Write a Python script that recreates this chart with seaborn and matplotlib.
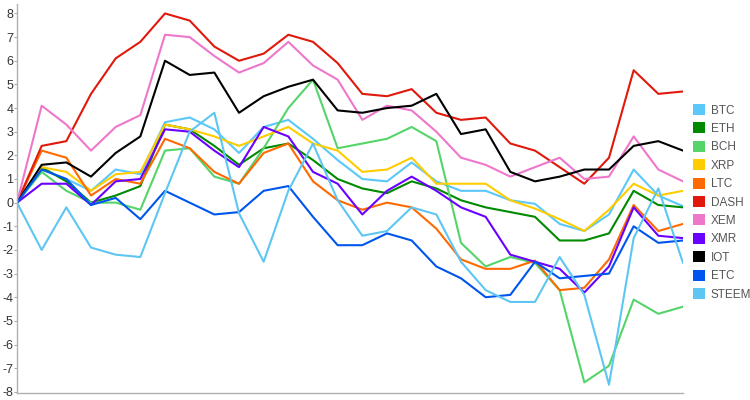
import pandas as pd
import matplotlib
matplotlib.use("Agg")
import matplotlib.pyplot as plt
from matplotlib.patches import Patch
import seaborn as sns

steps = list(range(28))

btc = [0, 1.4, 1.0, 0.5, 1.4, 1.2, 3.4, 3.6, 3.1, 2.1, 3.2, 3.5, 2.7, 1.8, 1.0, 0.9,
       1.7, 0.9, 0.5, 0.5, 0.1, -0.05, -0.9, -1.2, -0.5, 1.4, 0.3, -0.15]
eth = [0, 1.5, 0.9, 0.0, 0.3, 0.7, 3.3, 3.1, 2.4, 1.6, 2.3, 2.5, 1.8, 1.0, 0.6, 0.4,
       0.9, 0.6, 0.1, -0.2, -0.4, -0.6, -1.6, -1.6, -1.3, 0.5, -0.1, -0.2]
bch = [0, 1.3, 0.5, 0.0, 0.0, -0.3, 2.2, 2.3, 1.1, 0.8, 2.3, 4.0, 5.2, 2.3, 2.5, 2.7,
       3.2, 2.6, -1.7, -2.7, -2.3, -2.55, -3.7, -7.6, -6.9, -4.1, -4.7, -4.4]
xrp = [0, 1.5, 1.3, 0.5, 1.2, 1.3, 3.3, 3.1, 2.8, 2.4, 2.8, 3.2, 2.5, 2.2, 1.3, 1.4,
       1.9, 0.8, 0.8, 0.8, 0.1, -0.25, -0.7, -1.2, -0.3, 0.8, 0.3, 0.5]
ltc = [0, 2.2, 1.9, 0.3, 1.0, 0.8, 2.7, 2.3, 1.3, 0.8, 2.1, 2.5, 0.9, 0.1, -0.3, 0.0,
       -0.2, -1.1, -2.4, -2.8, -2.8, -2.45, -3.7, -3.6, -2.4, -0.1, -1.2, -0.9]
dash = [0, 2.4, 2.6, 4.6, 6.1, 6.8, 8.0, 7.7, 6.6, 6.0, 6.3, 7.1, 6.8, 5.9, 4.6, 4.5,
        4.8, 3.8, 3.5, 3.6, 2.5, 2.2, 1.5, 0.8, 1.9, 5.6, 4.6, 4.7]
xem = [0, 4.1, 3.3, 2.2, 3.2, 3.7, 7.1, 7.0, 6.2, 5.5, 5.9, 6.8, 5.8, 5.2, 3.5, 4.1,
       3.9, 3.0, 1.9, 1.6, 1.1, 1.5, 1.9, 1.0, 1.1, 2.8, 1.4, 0.9]
xmr = [0, 0.8, 0.8, -0.1, 0.9, 1.0, 3.1, 3.0, 2.2, 1.5, 3.2, 2.8, 1.3, 0.8, -0.5, 0.5,
       1.1, 0.5, -0.2, -0.6, -2.2, -2.5, -2.8, -3.8, -2.7, -0.2, -1.4, -1.5]
iot = [0, 1.6, 1.7, 1.1, 2.1, 2.8, 6.0, 5.4, 5.5, 3.8, 4.5, 4.9, 5.2, 3.9, 3.8, 4.0,
       4.1, 4.6, 2.9, 3.1, 1.3, 0.9, 1.1, 1.4, 1.4, 2.4, 2.6, 2.2]
etc = [0, 1.4, 1.0, -0.1, 0.2, -0.7, 0.5, 0.0, -0.5, -0.4, 0.5, 0.7, -0.6, -1.8, -1.8, -1.3,
       -1.6, -2.7, -3.2, -4.0, -3.9, -2.5, -3.2, -3.1, -3.0, -1.0, -1.7, -1.6]
steem = [0, -2.0, -0.2, -1.9, -2.2, -2.3, 0.4, 3.0, 3.8, -0.45, -2.5, 0.5, 2.5, 0.1, -1.4, -1.2,
         -0.2, -0.5, -2.5, -3.7, -4.2, -4.2, -2.3, -3.9, -7.7, -1.5, 0.6, -2.55]

coins = ["BTC", "ETH", "BCH", "XRP", "LTC", "DASH", "XEM", "XMR", "IOT", "ETC", "STEEM"]
colors = ["#5ac8fa", "#008a00", "#55d46a", "#ffcc00", "#ff6a00", "#e0190c",
          "#ee77cc", "#6a00ff", "#000000", "#0055ee", "#5ec6f2"]
series = [btc, eth, bch, xrp, ltc, dash, xem, xmr, iot, etc, steem]

rows = []
for name, vals in zip(coins, series):
    for s, v in zip(steps, vals):
        rows.append({"step": s, "value": v, "coin": name})
df = pd.DataFrame(rows)

sns.set_style("white")
plt.rcParams["font.family"] = ["Liberation Sans", "DejaVu Sans"]
plt.rcParams["axes.unicode_minus"] = False

fig = plt.figure(figsize=(7.5, 4), dpi=100)
ax = fig.add_axes([17 / 750, 7 / 400, 666 / 750, 389 / 400])

sns.lineplot(data=df, x="step", y="value", hue="coin", hue_order=coins,
             palette=dict(zip(coins, colors)), linewidth=1.5, legend=False, ax=ax)

ax.set_xlim(0, 27)
ax.set_ylim(-8.05, 8.4)
ax.set_yticks(range(-8, 9))
ax.set_xticks([])
ax.set_xlabel("")
ax.set_ylabel("")
ax.tick_params(axis="y", labelsize=9, labelcolor="#333333", length=2,
               color="#aaaaaa", pad=0.5, left=True)
for side in ["top", "right"]:
    ax.spines[side].set_visible(False)
for side in ["left", "bottom"]:
    ax.spines[side].set_color("#b0b0b0")
    ax.spines[side].set_linewidth(1)

handles = [Patch(facecolor=c, edgecolor="none", label=n) for n, c in zip(coins, colors)]
fig.legend(handles=handles, loc="upper left", bbox_to_anchor=(693 / 750, 296 / 400),
           frameon=False, fontsize=8.5, labelcolor="#555555", handlelength=1.05,
           handleheight=1.05, handletextpad=0.45, labelspacing=0.5, borderaxespad=0,
           borderpad=0)

fig.savefig("out.png", dpi=100)
